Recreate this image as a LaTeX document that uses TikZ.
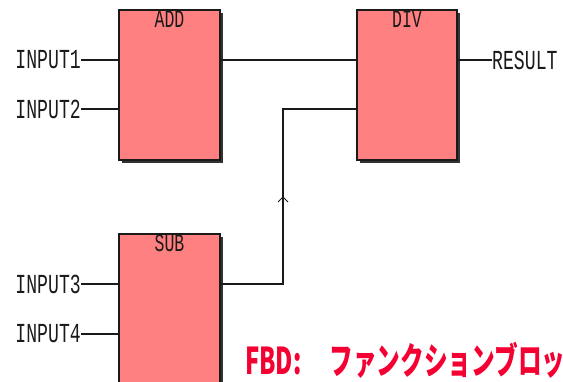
\documentclass[tikz,border=0pt]{standalone}
\usepackage{fontspec}
\usetikzlibrary{shadows}
\newfontfamily\pinfont[FakeStretch=0.66]{Liberation Mono}
\newfontfamily\jpfont[FakeStretch=0.64]{Noto Sans CJK JP}
\definecolor{boxfill}{HTML}{FF8080}
\definecolor{wire}{HTML}{1A1A1A}
\definecolor{fbdred}{HTML}{F50032}
\begin{document}
\begin{tikzpicture}[x=1pt,y=-1pt,
  fblock/.style={draw=wire, line width=1.3pt, fill=boxfill, minimum height=150pt, inner sep=0pt,
     drop shadow={shadow xshift=3pt, shadow yshift=-3pt, fill=black!80, opacity=1}},
  pin/.style={font=\pinfont\fontsize{27.5}{27.5}\selectfont, inner sep=0pt, text=wire},
  blabel/.style={font=\pinfont\fontsize{25}{25}\selectfont, inner sep=0pt, anchor=north, text=wire},
  wireline/.style={draw=wire, line width=1.3pt}]
\clip (0,0) rectangle (563,382);
\fill[white] (0,0) rectangle (563,382);
% blocks
\node[fblock, minimum width=101pt] (add) at (169.5,85) {};
\node[fblock, minimum width=100pt] (div) at (407,85) {};
\node[fblock, minimum width=101pt] (sub) at (169.5,309) {};
\node[blabel] (addl) at ([yshift=-1pt]add.north) {ADD};
\node[blabel] (divl) at ([yshift=-1pt]div.north) {DIV};
\node[blabel] (subl) at ([yshift=-1pt]sub.north) {SUB};
% pins
\node[pin, anchor=east] (in1) at (81,60) {INPUT1};
\node[pin, anchor=east] (in2) at (81,109) {INPUT2};
\node[pin, anchor=east] (in3) at (81,284) {INPUT3};
\node[pin, anchor=east] (in4) at (81,334) {INPUT4};
\node[pin, anchor=west] (res) at (492,60) {RESULT};
% wires
\draw[wireline] (in1.east) -- (in1.east -| add.west);
\draw[wireline] (in2.east) -- (in2.east -| add.west);
\draw[wireline] (in3.east) -- (in3.east -| sub.west);
\draw[wireline] (in4.east) -- (in4.east -| sub.west);
\draw[wireline] (add.east |- in1.east) -- (div.west |- in1.east);
\draw[wireline] (div.east |- res.west) -- (res.west);
\coordinate (bend) at (283,109);
\draw[wireline] (sub.east |- in3.east) -| (bend) -- (div.west |- bend);
\coordinate (mark) at (283,197);
\draw[draw=wire, line width=1pt] ([shift={(-5,5)}]mark) -- (mark) -- ([shift={(5,5)}]mark);
% title
\node[font=\jpfont\bfseries\fontsize{37}{37}\selectfont, text=fbdred, inner sep=0pt, anchor=base west] (title) at (245,374) {FBD:\hspace{28pt}ファンクションブロッ};
\end{tikzpicture}
\end{document}
